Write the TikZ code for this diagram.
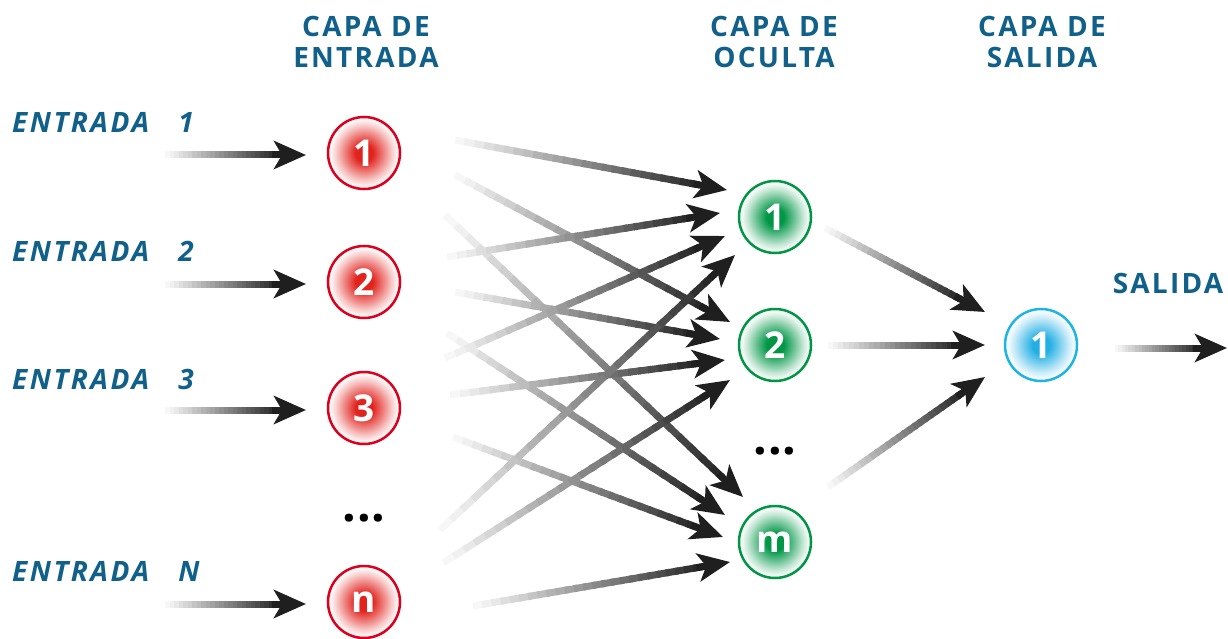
\documentclass[tikz,border=0pt]{standalone}
\usepackage{fontspec}
\setmainfont{Open Sans}
\usetikzlibrary{calc,arrows.meta}
\definecolor{tblue}{RGB}{16,96,138}
\definecolor{redC}{RGB}{225,35,30}
\definecolor{redB}{RGB}{220,0,30}
\definecolor{grnC}{RGB}{0,150,70}
\definecolor{grnB}{RGB}{0,150,70}
\definecolor{bluC}{RGB}{35,175,228}
\definecolor{bluB}{RGB}{30,180,230}
\pgfdeclareradialshading{redball}{\pgfpointorigin}{color(0bp)=(redC); color(6bp)=(redC); color(19bp)=(redC!25!white); color(23bp)=(redC!5!white); color(25bp)=(white); color(50bp)=(white)}
\pgfdeclareradialshading{grnball}{\pgfpointorigin}{color(0bp)=(grnC); color(6bp)=(grnC); color(19bp)=(grnC!25!white); color(23bp)=(grnC!5!white); color(25bp)=(white); color(50bp)=(white)}
\pgfdeclareradialshading{bluball}{\pgfpointorigin}{color(0bp)=(bluC); color(6bp)=(bluC); color(19bp)=(bluC!25!white); color(23bp)=(bluC!5!white); color(25bp)=(white); color(50bp)=(white)}
\newcommand\garrow[2]{%
  \coordinate (gP) at ($(#2)!28pt!(#1)$);
  \foreach \k in {0,...,24}{%
    \pgfmathsetmacro\ta{\k/25}%
    \pgfmathsetmacro\tb{min(1,(\k+1.4)/25)}%
    \pgfmathsetmacro\cc{int(3+\k*3.4)}%
    \draw[line width=7pt,black!\cc] ($(#1)!\ta!(gP)$) -- ($(#1)!\tb!(gP)$);
  }%
  \draw[line width=7pt,black!88,-{Stealth[length=32pt,width=28pt,inset=8pt]}] ($(#2)!34pt!(#1)$) -- (#2);
}
\begin{document}
\begin{tikzpicture}[x=1pt,y=-1pt,
  title/.style={text=tblue,font=\fontsize{28}{31}\selectfont\bfseries\addfontfeatures{LetterSpace=8},align=center,anchor=base,inner sep=0pt},
  inlab/.style={text=tblue,font=\fontsize{28}{31}\selectfont\bfseries\itshape\addfontfeatures{LetterSpace=9},anchor=base west,inner sep=0pt},
  neuron/.style={circle,minimum size=72pt,line width=2.5pt,text=white,font=\fontsize{37}{37}\selectfont\bfseries,inner sep=0pt},
  inp/.style={neuron,draw=redB,shading=redball},
  hid/.style={neuron,draw=grnB,shading=grnball},
  outp/.style={neuron,draw=bluB,shading=bluball},
  dots/.style={font=\fontsize{48}{48}\selectfont\bfseries\addfontfeatures{LetterSpace=2},inner sep=0pt}]
\useasboundingbox (0,0) rectangle (1228,639);
% titles
\node[title] (t1) at (366,68) {CAPA DE\\ENTRADA};
\node[title] (t2) at (774,68) {CAPA DE\\OCULTA};
\node[title] (t3) at (1042,68) {CAPA DE\\SALIDA};
\node[title] (tout) at (1168,293) {SALIDA};
% input labels
\node[inlab] (l1) at (12,133) {ENTRADA\ \ \ 1};
\node[inlab] (l2) at (12,261) {ENTRADA\ \ \ 2};
\node[inlab] (l3) at (12,389) {ENTRADA\ \ \ 3};
\node[inlab] (ln) at (12,581) {ENTRADA\ \ \ N};
% neurons
\node[inp] (i1) at (364,153) {1};
\node[inp] (i2) at (364,282) {2};
\node[inp] (i3) at (364,408) {3};
\node[inp] (in) at (364,602) {n};
\node[dots] (di) at (364,518) {...};
\node[hid] (h1) at (775,217) {1};
\node[hid] (h2) at (775,345) {2};
\node[hid] (hm) at (775,542) {m};
\node[dots] (dh) at (775,451) {...};
\node[outp] (o) at (1041,345) {1};
% input arrows
\foreach \n in {i1,i2,i3,in}{
  \coordinate (\n s) at ($(\n)+(-199,2)$);
  \coordinate (\n t) at ($(\n)+(-58,2)$);
  \garrow{\n s}{\n t}
}
% input -> hidden
\coordinate (s11) at ($(i1)+(91,-13)$); \coordinate (e11) at ($(h1)+(-48,-27)$);
\coordinate (s12) at ($(i1)+(91,22)$);  \coordinate (e12) at ($(h2)+(-45,-23)$);
\coordinate (s1m) at ($(i1)+(81,62)$);  \coordinate (e1m) at ($(hm)+(-32,-45)$);
\coordinate (s21) at ($(i2)+(83,-25)$); \coordinate (e21) at ($(h1)+(-55,-4)$);
\coordinate (s22) at ($(i2)+(91,10)$);  \coordinate (e22) at ($(h2)+(-55,-6)$);
\coordinate (s2m) at ($(i2)+(83,51)$);  \coordinate (e2m) at ($(hm)+(-50,-27)$);
\coordinate (s31) at ($(i3)+(81,-50)$); \coordinate (e31) at ($(h1)+(-50,19)$);
\coordinate (s32) at ($(i3)+(86,-13)$); \coordinate (e32) at ($(h2)+(-50,15)$);
\coordinate (s3m) at ($(i3)+(89,29)$);  \coordinate (e3m) at ($(hm)+(-52,-5)$);
\coordinate (sn1) at ($(in)+(76,-72)$); \coordinate (en1) at ($(h1)+(-40,38)$);
\coordinate (sn2) at ($(in)+(79,-39)$); \coordinate (en2) at ($(h2)+(-45,35)$);
\coordinate (snm) at ($(in)+(109,4)$);  \coordinate (enm) at ($(hm)+(-45,20)$);
\foreach \a/\b in {1/1,1/2,1/m,2/1,2/2,2/m,3/1,3/2,3/m,n/1,n/2,n/m}{
  \garrow{s\a\b}{e\a\b}
}
% hidden -> output
\coordinate (ho1s) at ($(h1)+(50,11)$);  \coordinate (ho1t) at ($(o)+(-56,-33)$);
\coordinate (ho2s) at ($(h2)+(53,0)$);   \coordinate (ho2t) at ($(o)+(-56,0)$);
\coordinate (homs) at ($(hm)+(53,-55)$); \coordinate (homt) at ($(o)+(-56,32)$);
\garrow{ho1s}{ho1t}
\garrow{ho2s}{ho2t}
\garrow{homs}{homt}
% output arrow
\coordinate (os) at ($(o)+(74,3)$);
\coordinate (ot) at ($(o)+(186,3)$);
\garrow{os}{ot}
\end{tikzpicture}
\end{document}
